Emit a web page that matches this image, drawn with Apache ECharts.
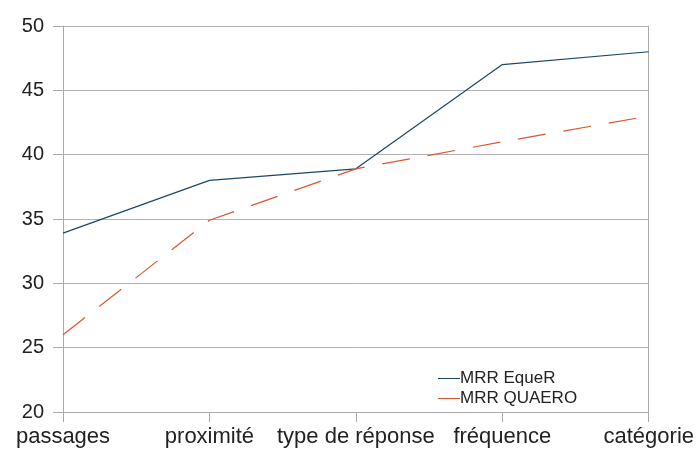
<!DOCTYPE html>
<html>
<head>
<meta charset="utf-8">
<script src="https://cdn.jsdelivr.net/npm/echarts@6/dist/echarts.min.js"></script>
<style>
  html, body { margin: 0; padding: 0; background: #fff; }
  #chart { width: 697px; height: 455px; }
</style>
</head>
<body>
<div id="chart"></div>
<script>
  const categories = ['passages', 'proximité', 'type de réponse', 'fréquence', 'catégorie']
  const mrrEquer = [33.9, 38, 38.9, 47, 48]
  const mrrQuaero = [26, 34.9, 38.9, 41, 43]

  const chart = echarts.init(document.getElementById('chart'))
  chart.setOption({
    animation: false,
    textStyle: { fontFamily: 'Liberation Sans' },
    grid: { left: 63, right: 47, top: 26, bottom: 43 },
    legend: {
      orient: 'vertical',
      left: 433,
      top: 365,
      itemWidth: 22,
      itemHeight: 1,
      itemGap: 3,
      icon: 'rect',
      textStyle: { fontSize: 17, color: '#222', padding: [0, 0, 0, -5] },
      data: ['MRR EqueR', 'MRR QUAERO']
    },
    xAxis: {
      type: 'category',
      data: categories,
      boundaryGap: false,
      axisLine: { lineStyle: { color: '#aaa' } },
      axisTick: { show: true, length: 10, lineStyle: { color: '#aaa' } },
      axisLabel: { color: '#222', fontSize: 22, margin: 14, interval: 0 },
      splitLine: { show: false }
    },
    yAxis: [
      {
        type: 'value',
        min: 20,
        max: 50,
        interval: 5,
        axisLine: { show: true, lineStyle: { color: '#aaa' } },
        axisTick: { show: true, length: 10, lineStyle: { color: '#aaa' } },
        axisLabel: { color: '#222', fontSize: 20, margin: 19 },
        splitLine: { lineStyle: { color: '#b3b3b3' } }
      },
      {
        type: 'value',
        position: 'right',
        min: 20,
        max: 50,
        interval: 5,
        axisLine: { show: true, lineStyle: { color: '#aaa' } },
        axisTick: { show: false },
        axisLabel: { show: false },
        splitLine: { show: false }
      }
    ],
    series: [
      {
        name: 'MRR EqueR',
        type: 'line',
        data: mrrEquer,
        symbol: 'none',
        lineStyle: { color: '#1b4863', width: 1.2 },
        itemStyle: { color: '#1b4863' }
      },
      {
        name: 'MRR QUAERO',
        type: 'line',
        data: mrrQuaero,
        symbol: 'none',
        lineStyle: { color: '#d8582f', width: 1.2, type: [28, 18] },
        itemStyle: { color: '#d8582f' }
      }
    ]
  })
</script>
</body>
</html>
